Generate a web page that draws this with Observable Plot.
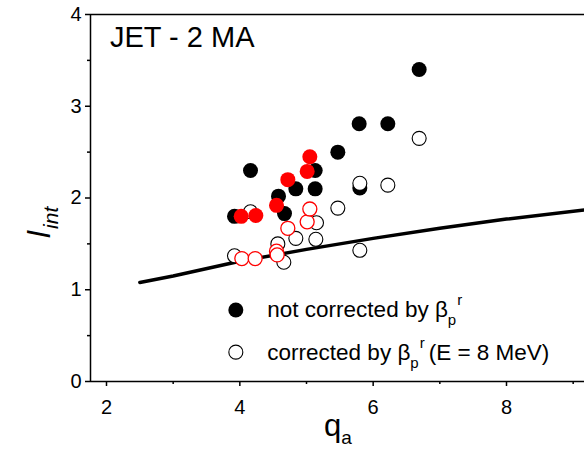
<!DOCTYPE html>
<html>
<head>
<meta charset="utf-8">
<script src="https://cdn.jsdelivr.net/npm/d3@7"></script>
<script src="https://cdn.jsdelivr.net/npm/@observablehq/plot@0.6"></script>
<style>
  html, body { margin: 0; padding: 0; background: #fff; }
  svg { display: block; }
</style>
</head>
<body>
<div id="chart"></div>
<script>
// ---- Data ----
// Not corrected by beta_p^r (filled black)
const notCorrQ = [3.92, 4.16, 4.58, 4.67, 4.84, 5.13, 5.13, 5.47, 5.79, 6.22, 6.69, 5.80];
const notCorrL = [1.80, 2.30, 2.02, 1.83, 2.10, 2.30, 2.10, 2.50, 2.81, 2.81, 3.40, 2.11];
// Corrected by beta_p^r (open black)
const corrQ = [3.92, 4.16, 4.57, 4.66, 4.84, 5.14, 5.15, 5.47, 5.80, 5.80, 6.22, 6.69];
const corrL = [1.37, 1.85, 1.50, 1.30, 1.56, 1.55, 1.73, 1.89, 1.43, 2.16, 2.14, 2.65];
// Red series, not corrected (filled red)
const redNotCorrQ = [4.02, 4.24, 4.55, 4.72, 5.01, 5.05];
const redNotCorrL = [1.80, 1.81, 1.92, 2.20, 2.29, 2.45];
// Red series, corrected (open red)
const redCorrQ = [4.03, 4.23, 4.55, 4.56, 4.72, 5.01, 5.05];
const redCorrL = [1.34, 1.34, 1.42, 1.38, 1.67, 1.74, 1.88];
// Solid reference curve
const lineQ = [2.5, 3, 4, 5, 6, 7, 8, 9.17];
const lineL = [1.08, 1.15, 1.31, 1.44, 1.56, 1.67, 1.77, 1.87];
// Axes
const xDomain = [1.76, 9.17];
const yDomain = [0, 4];
const xMajor = [2, 4, 6, 8];
const xMinor = [3, 5, 7, 9];
const yMajor = [0, 1, 2, 3, 4];
const yMinor = [0.5, 1.5, 2.5, 3.5];
// Legend anchors (data space)
const legendQ = 3.94;
const legendL = [0.78, 0.32];

const zip = (xs, ys) => xs.map((x, i) => ({x, y: ys[i]}));
const notCorr = zip(notCorrQ, notCorrL);
const corr = zip(corrQ, corrL);
const redNotCorr = zip(redNotCorrQ, redNotCorrL);
const redCorr = zip(redCorrQ, redCorrL);
const curve = zip(lineQ, lineL);

const R = 7.5;
const FONT = "'Liberation Sans', Arial, Helvetica, sans-serif";

const plot = Plot.plot({
  width: 584,
  height: 453,
  marginLeft: 90,
  marginRight: 0,
  marginTop: 14,
  marginBottom: 72,
  x: {domain: xDomain},
  y: {domain: yDomain},
  style: {fontFamily: FONT, background: "#fff", color: "#000", overflow: "visible"},
  marks: [
    Plot.axisX({ticks: xMajor, tickSize: 5, tickPadding: 13, fontSize: 20, label: null, strokeWidth: 1.5, tickFormat: d => String(d)}),
    Plot.axisX({ticks: xMinor, tickSize: 3, tickFormat: () => "", label: null, strokeWidth: 1.5}),
    Plot.axisY({ticks: yMajor, tickSize: 5, tickPadding: 4, fontSize: 20, label: null, strokeWidth: 1.5, tickFormat: d => String(d)}),
    Plot.axisY({ticks: yMinor, tickSize: 3, tickFormat: () => "", label: null, strokeWidth: 1.5}),
    Plot.ruleY([yDomain[0]], {stroke: "#000", strokeWidth: 1.5}),
    Plot.ruleY([yDomain[1]], {stroke: "#000", strokeWidth: 1.5}),
    Plot.ruleX([xDomain[0]], {stroke: "#000", strokeWidth: 1.5}),
    Plot.line(curve, {x: "x", y: "y", stroke: "#000", strokeWidth: 3.5}),
    Plot.dot(notCorr, {x: "x", y: "y", r: R, fill: "#000", stroke: "none"}),
    Plot.dot(corr, {x: "x", y: "y", r: R - 0.5, fill: "#fff", stroke: "#000", strokeWidth: 1.1}),
    Plot.dot(redNotCorr, {x: "x", y: "y", r: R, fill: "#ff0000", stroke: "none"}),
    Plot.dot(redCorr, {x: "x", y: "y", r: R - 0.5, fill: "#fff", stroke: "#ff0000", strokeWidth: 1.3}),
    // legend symbols
    Plot.dot([{x: legendQ, y: legendL[0]}], {x: "x", y: "y", r: R, fill: "#000", stroke: "none"}),
    Plot.dot([{x: legendQ, y: legendL[1]}], {x: "x", y: "y", r: R - 0.5, fill: "#fff", stroke: "#000", strokeWidth: 1.1})
  ]
});

const svg = d3.select(plot);
const sx = plot.scale("x"), sy = plot.scale("y");

// Title
svg.append("text")
  .attr("x", sx.apply(2.06)).attr("y", sy.apply(3.64))
  .attr("text-anchor", "start")
  .attr("font-family", FONT).attr("font-size", 29).attr("fill", "#000")
  .text("JET - 2 MA");

// Legend text with rich sub/superscripts
function legendText(y, rest) {
  const t = svg.append("text")
    .attr("x", sx.apply(legendQ) + 32).attr("y", sy.apply(y) + 8)
    .attr("text-anchor", "start")
    .attr("font-family", FONT).attr("font-size", 22.5).attr("fill", "#000");
  t.append("tspan").text(rest[0] + "\u03B2");
  t.append("tspan").attr("font-size", 15).attr("dy", 8).text("p");
  t.append("tspan").attr("font-size", 15).attr("dy", -20).attr("dx", 1).text("r");
  if (rest[1]) t.append("tspan").attr("dy", 12).attr("dx", 4).text(rest[1]);
}
legendText(legendL[0], ["not corrected by ", ""]);
legendText(legendL[1], ["corrected by ", "(E = 8 MeV)"]);

// X axis label q_a
const xl = svg.append("text")
  .attr("x", 324).attr("y", 436)
  .attr("text-anchor", "start")
  .attr("font-family", FONT).attr("fill", "#000");
xl.append("tspan").attr("font-size", 31).text("q");
xl.append("tspan").attr("font-size", 19).attr("dy", 8).text("a");

// Y axis label l_int (rotated, italic)
const yl = svg.append("text")
  .attr("transform", "translate(50,238) rotate(-90)")
  .attr("text-anchor", "start")
  .attr("font-family", FONT)
  .attr("font-style", "italic").attr("fill", "#000");
yl.append("tspan").attr("font-size", 32).text("l");
yl.append("tspan").attr("font-size", 21).attr("dy", 8).attr("dx", 2).text("int");

document.getElementById("chart").appendChild(plot);
</script>
</body>
</html>
